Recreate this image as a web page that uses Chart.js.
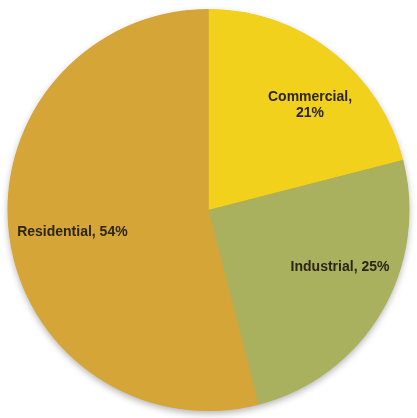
<!DOCTYPE html>
<html>
<head>
<meta charset="utf-8">
<script src="https://cdn.jsdelivr.net/npm/chart.js@4.4.1/dist/chart.umd.min.js"></script>
<style>
  html, body { margin: 0; padding: 0; background: #fff; }
  #wrap { width: 417px; height: 418px; position: relative; }
</style>
</head>
<body>
<div id="wrap"><canvas id="pie"></canvas></div>
<script>
const sectors = ['Commercial', 'Industrial', 'Residential'];
const shares = [21, 25, 54];
const sectorColors = ['#F1D11B', '#A9B15F', '#D5A537'];

// label placement inside each slice: fraction of radius, and a nudge off the mid angle (deg)
const labelReach = [0.727, 0.713, 0.686];
const labelTurn = [6.2, -7.2, -2];

// one soft drop shadow under the whole disc, so slice edges stay clean
const discShadow = {
  id: 'discShadow',
  beforeDatasetsDraw(chart) {
    const arc = chart.getDatasetMeta(0).data[0];
    if (!arc) return;
    const ctx = chart.ctx;
    ctx.save();
    ctx.shadowColor = 'rgba(0,0,0,0.3)';
    ctx.shadowBlur = 7;
    ctx.shadowOffsetY = 3;
    ctx.fillStyle = '#D5A537';
    ctx.beginPath();
    ctx.arc(arc.x, arc.y, arc.outerRadius - 0.5, 0, Math.PI * 2);
    ctx.fill();
    ctx.restore();
  },
};

const sliceLabels = {
  id: 'sliceLabels',
  afterDatasetsDraw(chart) {
    const ctx = chart.ctx;
    const meta = chart.getDatasetMeta(0);
    ctx.save();
    ctx.font = 'bold 14px "Liberation Sans", Arial, sans-serif';
    ctx.fillStyle = '#2b2614';
    ctx.textAlign = 'center';
    ctx.textBaseline = 'middle';
    meta.data.forEach((arc, i) => {
      const mid = (arc.startAngle + arc.endAngle) / 2 + labelTurn[i] * Math.PI / 180;
      const r = arc.outerRadius * labelReach[i];
      const x = arc.x + Math.cos(mid) * r;
      const y = arc.y + Math.sin(mid) * r;
      if (i === 0) {
        ctx.fillText(sectors[i] + ',', x, y - 8);
        ctx.fillText(shares[i] + '%', x, y + 8);
      } else {
        ctx.fillText(sectors[i] + ', ' + shares[i] + '%', x, y);
      }
    });
    ctx.restore();
  },
};

new Chart(document.getElementById('pie'), {
  type: 'pie',
  data: {
    labels: sectors,
    datasets: [{
      data: shares,
      backgroundColor: sectorColors,
      borderWidth: 0,
    }],
  },
  options: {
    responsive: true,
    maintainAspectRatio: false,
    animation: false,
    layout: { padding: { top: 9, bottom: 7, left: 7, right: 7 } },
    plugins: {
      legend: { display: false },
      tooltip: { enabled: false },
    },
  },
  plugins: [discShadow, sliceLabels],
});
</script>
</body>
</html>
